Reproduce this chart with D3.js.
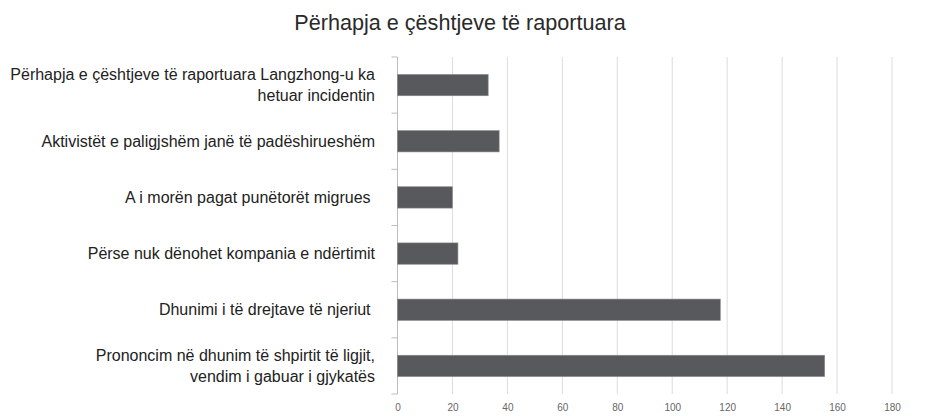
<!DOCTYPE html>
<html>
<head>
<meta charset="utf-8">
<script src="https://cdn.jsdelivr.net/npm/d3@7"></script>
<style>
  body { margin: 0; background: #fff; }
  svg { display: block; font-family: "Liberation Sans", Arial, sans-serif; }
</style>
</head>
<body>
<div id="graph"></div>
<script>
var width = 941;
var height = 416;

var title = "Përhapja e çështjeve të raportuara";

var categories = [
  "Përhapja e çështjeve të raportuara Langzhong-u ka|hetuar incidentin",
  "Aktivistët e paligjshëm janë të padëshirueshëm",
  "A i morën pagat punëtorët migrues ",
  "Përse nuk dënohet kompania e ndërtimit",
  "Dhunimi i të drejtave të njeriut ",
  "Prononcim në dhunim të shpirtit të ligjit,|vendim i gabuar i gjykatës"
];
var values = [33, 37, 20, 22, 117.5, 155.5];
var ticks = [0, 20, 40, 60, 80, 100, 120, 140, 160, 180];

var margin = {top: 57, right: 49, bottom: 22, left: 397.5};

var svg = d3.select("#graph")
    .append("svg")
    .attr("width", width)
    .attr("height", height);

var x = d3.scaleLinear()
    .domain([0, 180])
    .range([margin.left, width - margin.right]);

var y = d3.scaleBand()
    .domain(categories)
    .range([margin.top, height - margin.bottom])
    .paddingInner(0.62)
    .paddingOuter(0.31);

// title
svg.append("text")
    .attr("x", 460)
    .attr("y", 30)
    .attr("text-anchor", "middle")
    .attr("font-size", 21.6)
    .attr("fill", "#2a2a2a")
    .text(title);

// vertical grid lines
svg.append("g")
    .selectAll("line")
    .data(ticks.slice(1))
    .enter().append("line")
    .attr("x1", function(d) { return x(d); })
    .attr("x2", function(d) { return x(d); })
    .attr("y1", margin.top)
    .attr("y2", height - margin.bottom)
    .attr("stroke", "#dcdcdc")
    .attr("stroke-width", 1);

// x axis labels
var xAxis = svg.append("g")
    .attr("transform", "translate(0," + (height - margin.bottom) + ")")
    .call(d3.axisBottom(x).tickValues(ticks).tickSize(0).tickPadding(10));
xAxis.select(".domain").remove();
xAxis.selectAll("text")
    .attr("font-family", "Liberation Sans, Arial, sans-serif")
    .attr("font-size", 10)
    .attr("fill", "#666");

// y axis line and tick marks at band edges
var step = y.step();
var edges = d3.range(categories.length + 1).map(function(i) {
  return margin.top + i * step;
});
svg.append("line")
    .attr("x1", x(0)).attr("x2", x(0))
    .attr("y1", margin.top).attr("y2", height - margin.bottom)
    .attr("stroke", "#bdbdbd");
svg.append("g")
    .selectAll("line")
    .data(edges)
    .enter().append("line")
    .attr("x1", x(0) - 6)
    .attr("x2", x(0))
    .attr("y1", function(d) { return d; })
    .attr("y2", function(d) { return d; })
    .attr("stroke", "#bdbdbd");

// bars
svg.append("g")
    .selectAll("rect")
    .data(values)
    .enter().append("rect")
    .attr("x", x(0))
    .attr("y", function(d, i) { return y(categories[i]); })
    .attr("width", function(d) { return x(d) - x(0); })
    .attr("height", y.bandwidth())
    .attr("fill", "#58595c")
    .attr("stroke", "#8a8a8c")
    .attr("stroke-width", 0.6);

// category labels
var labels = svg.append("g")
    .selectAll("text")
    .data(categories)
    .enter().append("text")
    .attr("text-anchor", "end")
    .attr("font-size", 16)
    .attr("fill", "#222")
    .style("white-space", "pre");

labels.each(function(d) {
  var lines = d.split("|");
  var cy = y(d) + y.bandwidth() / 2;
  var lh = 21;
  var t = d3.select(this);
  lines.forEach(function(line, i) {
    t.append("tspan")
      .attr("x", 375)
      .attr("y", cy + (i - (lines.length - 1) / 2) * lh)
      .attr("dy", "0.35em")
      .text(line);
  });
});
</script>
</body>
</html>
